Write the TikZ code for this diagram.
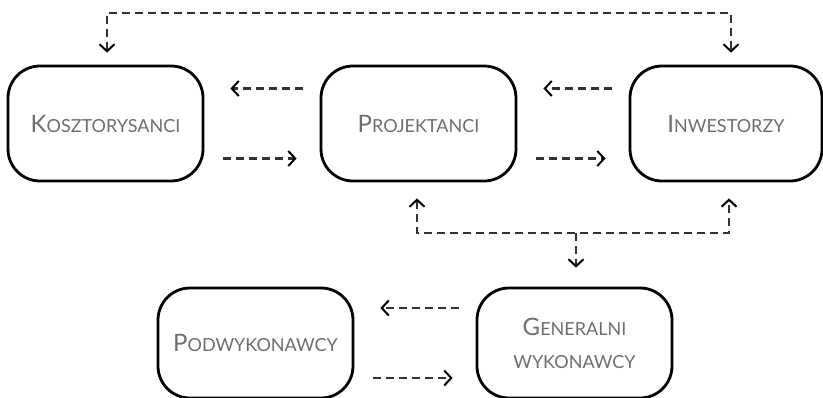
\documentclass[tikz,border=0pt]{standalone}
\usepackage{fontspec}
\setmainfont{Lato}
\usetikzlibrary{positioning,arrows.meta}

\definecolor{txtgray}{HTML}{6E6E6E}
\definecolor{linkgray}{HTML}{2E323A}

% fake small caps: big initial, smaller capitals
\newcommand\fakesc[2]{{\fontsize{24}{33}\selectfont #1}#2}

\tikzset{
  party/.style={draw=black, line width=2.8pt, rounded corners=32pt,
    minimum width=195pt, minimum height=115pt, align=center,
    text=txtgray, font=\fontsize{18}{33}\selectfont},
  barb/.tip={Straight Barb[length=7pt,width=15pt,line width=2pt,color=black]},
  link/.style={linkgray, line width=2.6pt, dash pattern=on 8pt off 5pt,
    arrows={-barb}},
  twoway/.style={link, arrows={barb-barb}}
}

\begin{document}
\begin{tikzpicture}[x=1pt, y=-1pt]

% ===== Layout parameters =====
\def\yTop{123.5}     % y-coordinate upper row
\def\yBot{343}       % y-coordinate lower row
\def\yLoop{13}       % y-coordinate upper loop
\def\yBus{233}       % y-coordinate middle bus
\def\dY{35}          % offset of the paired arrows

\useasboundingbox (0,0) rectangle (823,397);

% ===== Upper row =====
\node[party] (kosz) at (105.5,\yTop) {\fakesc{K}{OSZTORYSANCI}};
\node[party] (proj) at (418.5,\yTop) {\fakesc{P}{ROJEKTANCI}};
\node[party, minimum width=192pt] (inw) at (726,\yTop) {\fakesc{I}{NWESTORZY}};

% ===== Lower row =====
\node[party, minimum height=110pt] (podw) at (255.5,\yBot) {\fakesc{P}{ODWYKONAWCY}};
\node[party, minimum height=110pt] (gen) at (574.5,\yBot) {\fakesc{G}{ENERALNI}\\WYKONAWCY};

% ===== Paired arrows =====
\foreach \a/\b in {kosz/proj, proj/inw, podw/gen} {
    \draw[link, shorten <=17pt, shorten >=26pt] ([yshift=\dY pt]\b.west) -- ([yshift=\dY pt]\a.east);
    \draw[link, shorten <=19pt, shorten >=23pt] ([yshift=-\dY pt]\a.east) -- ([yshift=-\dY pt]\b.west);
}

% ===== Upper loop =====
\coordinate (loop) at (0,\yLoop);
\draw[twoway, shorten <=12pt, shorten >=12pt]
    ([xshift=1.5pt]kosz.north) -- ([xshift=1.5pt]kosz.north |- loop)
    -- ([xshift=5pt]inw.north |- loop) -- ([xshift=5pt]inw.north);

% ===== Middle bus =====
\coordinate (bus) at (0,\yBus);
\draw[twoway, shorten <=16pt, shorten >=16pt]
    ([xshift=-1.5pt]proj.south) -- ([xshift=-1.5pt]proj.south |- bus)
    -- ([xshift=3pt]inw.south |- bus) -- ([xshift=3pt]inw.south);
\draw[link, shorten >=19pt] ([xshift=1.5pt]gen.north |- bus) -- ([xshift=1.5pt]gen.north);

\end{tikzpicture}
\end{document}
